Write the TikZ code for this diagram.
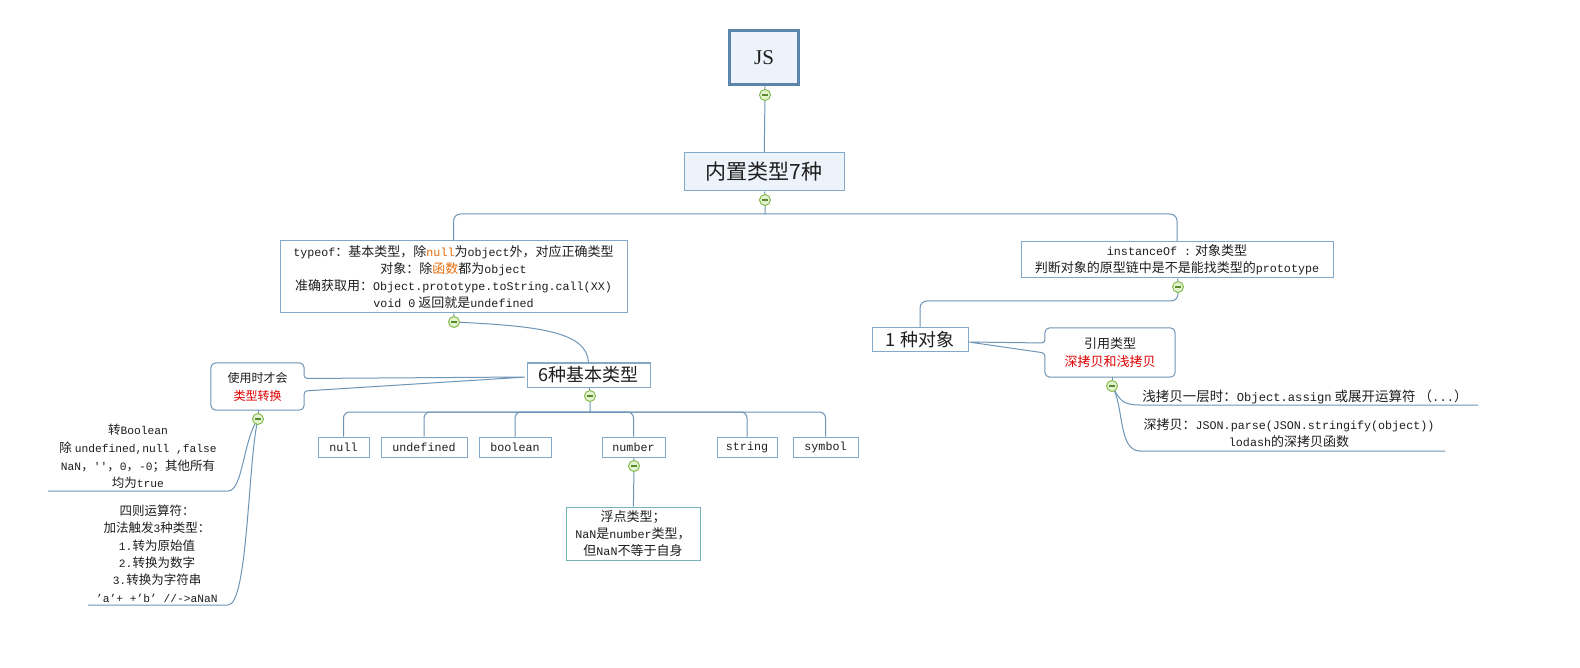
\documentclass[tikz,border=0pt]{standalone}
\usepackage{fontspec}
\setmainfont{Noto Sans CJK SC}
\newfontfamily\monof[Scale=0.9]{Liberation Mono}
\newfontfamily\serf{Liberation Serif}
\newcommand\mono[1]{{\monof #1}}
\usetikzlibrary{calc}
\definecolor{bd}{HTML}{84A8C8}
\definecolor{bdd}{HTML}{5B86AA}
\definecolor{cb}{HTML}{7096B6}
\definecolor{lnk}{HTML}{6E95B6}
\definecolor{lf}{HTML}{ECF3FA}
\definecolor{tl}{HTML}{76B0BA}
\definecolor{txt}{HTML}{1E1E1E}
\definecolor{orng}{HTML}{E46C0A}
\definecolor{rd}{HTML}{E00000}
\definecolor{mg}{HTML}{7DB83F}
\definecolor{mf}{HTML}{E3F2CF}
\definecolor{mm}{HTML}{5A8A30}
\pgfdeclarelayer{bg}
\pgfsetlayers{bg,main}
\begin{document}
\begin{tikzpicture}[x=1pt,y=-1pt,
  conn/.style={draw=lnk, line width=1pt},
  box/.style={draw=bd, line width=1pt, fill=white, inner sep=0pt, align=center, text=txt, font=\fontsize{13}{17}\selectfont},
  leaf/.style={box, minimum height=20pt},
  callbd/.style={draw=cb, line width=1pt},
  plain/.style={inner sep=0pt, align=center, text=txt},
  mn/.style={circle, draw=mg, fill=mf, line width=0.9pt, minimum size=11pt, inner sep=0pt,
    path picture={\draw[mm, line width=1.1pt] ($(path picture bounding box.center)+(-3,0)$) -- ($(path picture bounding box.center)+(3,0)$);}}
]
\useasboundingbox (0,0) rectangle (1580,668);

% main nodes
\node[box, draw=bdd, line width=3.5pt, fill=lf, minimum width=69pt, minimum height=54pt, font=\serf\fontsize{21}{24}\selectfont] (js) at (764,57.5) {JS};
\node[mn] (m1) at (765,95) {};
\node[box, fill=lf, minimum width=160pt, minimum height=38pt, font=\fontsize{21}{24}\selectfont] (t7) at (764,172) {内置类型7种};
\node[mn] (m2) at (765,200) {};
\coordinate (j2) at (765,214);

\node[box, minimum width=347pt, minimum height=72pt] (tpf) at (453.5,277) {\mono{typeof}：基本类型，除\textcolor{orng}{\mono{null}}为\mono{object}外，对应正确类型\\
对象：除\textcolor{orng}{函数}都为\mono{object}\\
准确获取用：\mono{Object.prototype.toString.call(XX)}\\
\mono{void 0} 返回就是\mono{undefined}};
\node[mn] (m3) at (454,322) {};

\node[box, minimum width=312pt, minimum height=36pt] (inst) at (1177,260) {\mono{instanceOf :} 对象类型\\
判断对象的原型链中是不是能找类型的\mono{prototype}};
\node[mn] (m7) at (1178,287) {};
\coordinate (j7) at (1178,301);

\node[box, minimum width=123pt, minimum height=24pt, font=\fontsize{18}{20}\selectfont] (six) at (588.5,375) {6种基本类型};
\node[mn] (m4) at (590,396) {};
\coordinate (bus) at (590,412);

\node[leaf, minimum width=51pt] (lnull) at (343.5,447) {\mono{null}};
\node[leaf, minimum width=86pt] (lundef) at (424,447) {\mono{undefined}};
\node[leaf, minimum width=72pt] (lbool) at (515,447) {\mono{boolean}};
\node[leaf, minimum width=63pt] (lnum) at (633.5,447) {\mono{number}};
\node[leaf, minimum width=60pt] (lstr) at (747,447) {\mono{string}};
\node[leaf, minimum width=65pt] (lsym) at (825.5,447) {\mono{symbol}};
\node[mn] (m5) at (634,466) {};
\node[box, draw=tl, minimum width=134pt, minimum height=53pt] (flt) at (633,533.5) {浮点类型；\\
\mono{NaN}是\mono{number}类型，\\
但\mono{NaN}不等于自身};

% left callout
\node[plain, minimum width=93pt, minimum height=47pt, font=\fontsize{12}{18}\selectfont] (use) at (257.5,386.5) {使用时才会\\\textcolor{rd}{类型转换}};
\node[mn] (m6) at (258,419) {};
\node[plain, font=\fontsize{12.5}{17.7}\selectfont] (t1) at (138,456.5) {转\mono{Boolean}\\
除 \mono{undefined,null ,false}\\
\mono{NaN}，\mono{{'}{'}}，\mono{0}，\mono{-0}；其他所有\\
均为\mono{true}};
\node[plain, font=\fontsize{12.5}{17.4}\selectfont] (t2) at (157,553.5) {四则运算符：\\
加法触发\mono{3}种类型：\\
\mono{1.}转为原始值\\
\mono{2.}转换为数字\\
\mono{3.}转换为字符串\\
\mono{’a’+ +’b’ //->aNaN}};
\coordinate (u1) at (48,491);
\coordinate (u2) at (88,605);

% right part
\node[box, minimum width=96pt, minimum height=24pt, font=\fontsize{18}{20}\selectfont] (obj) at (920,340) {1\hspace{0.3em}种对象};
\node[plain, minimum width=130pt, minimum height=49pt, font=\fontsize{13}{18}\selectfont] (ref) at (1110,352.5) {引用类型\\\textcolor{rd}{深拷贝和浅拷贝}};
\node[mn] (m8) at (1112,386) {};
\node[plain, font=\fontsize{13.5}{17}\selectfont] (rt1) at (1305,397) {浅拷贝一层时：\mono{Object.assign} 或展开运算符 （\mono{...}）};
\node[plain, font=\fontsize{13}{17}\selectfont] (rt2) at (1289,433.5) {深拷贝：\mono{JSON.parse(JSON.stringify(object))}\\
\mono{lodash}的深拷贝函数};
\coordinate (r1) at (1478,405);
\coordinate (r2) at (1445,451);

% callout borders
\draw[callbd, rounded corners=5] ($(use.east)+(0,-17.5)$) -- (use.north east) -- (use.north west) -- (use.south west) -- (use.south east) -- ($(use.east)+(0,8.5)$);
\draw[callbd, rounded corners=3] ($(use.east)+(0,-17.5)$) -- ($(use.east)+(0,-8)$) -- ($(six.west)+(0,2)$) -- ($(use.east)+(0,4.5)$) -- ($(use.east)+(0,8.5)$);
\draw[callbd, rounded corners=5] ($(ref.west)+(0,-14.5)$) -- (ref.north west) -- (ref.north east) -- (ref.south east) -- (ref.south west) -- ($(ref.west)+(0,7.5)$);
\draw[callbd, rounded corners=3] ($(ref.west)+(0,-14.5)$) -- ($(ref.west)+(0,-9.5)$) -- ($(obj.east)+(0,2)$) -- ($(ref.west)+(0,0.5)$) -- ($(ref.west)+(0,7.5)$);

\begin{pgfonlayer}{bg}
\fill[white] (0,0) rectangle (1580,668);
\draw[conn] (js) -- (m1) -- (t7);
\draw[conn] (t7) -- (m2) -- (j2);
\draw[conn, rounded corners=7] (tpf.north) |- (j2);
\draw[conn, rounded corners=7] (inst.north) |- (j2);
\draw[conn] (inst) -- (m7);
\draw[conn, rounded corners=7] (m7.center) -- (j7) -| (obj.north);
\draw[conn] (tpf) -- (m3);
\draw[conn] (m3.center) .. controls (540,326) and (587,332) .. (six.north);
\draw[conn] (six) -- (m4) -- (bus);
\foreach \l in {lnull,lundef,lbool,lnum,lstr,lsym}{
  \draw[conn, rounded corners=6] (\l.north) |- (bus);
}
\draw[conn] (lnum) -- (m5) -- (flt);
\draw[conn] (use.south -| m6) -- (m6);
\draw[conn] (m6.center) .. controls (243,440) and (243,491) .. (228,491) -- (u1);
\draw[conn] (m6.center) .. controls (248,460) and (248,605) .. (228,605) -- (u2);
\draw[conn] (ref.south -| m8) -- (m8);
\draw[conn] (m8.center) .. controls (1120,400) and (1122,405) .. (1140,405) -- (r1);
\draw[conn] (m8.center) .. controls (1124,405) and (1118,451) .. (1140,451) -- (r2);
\end{pgfonlayer}
\end{tikzpicture}
\end{document}
